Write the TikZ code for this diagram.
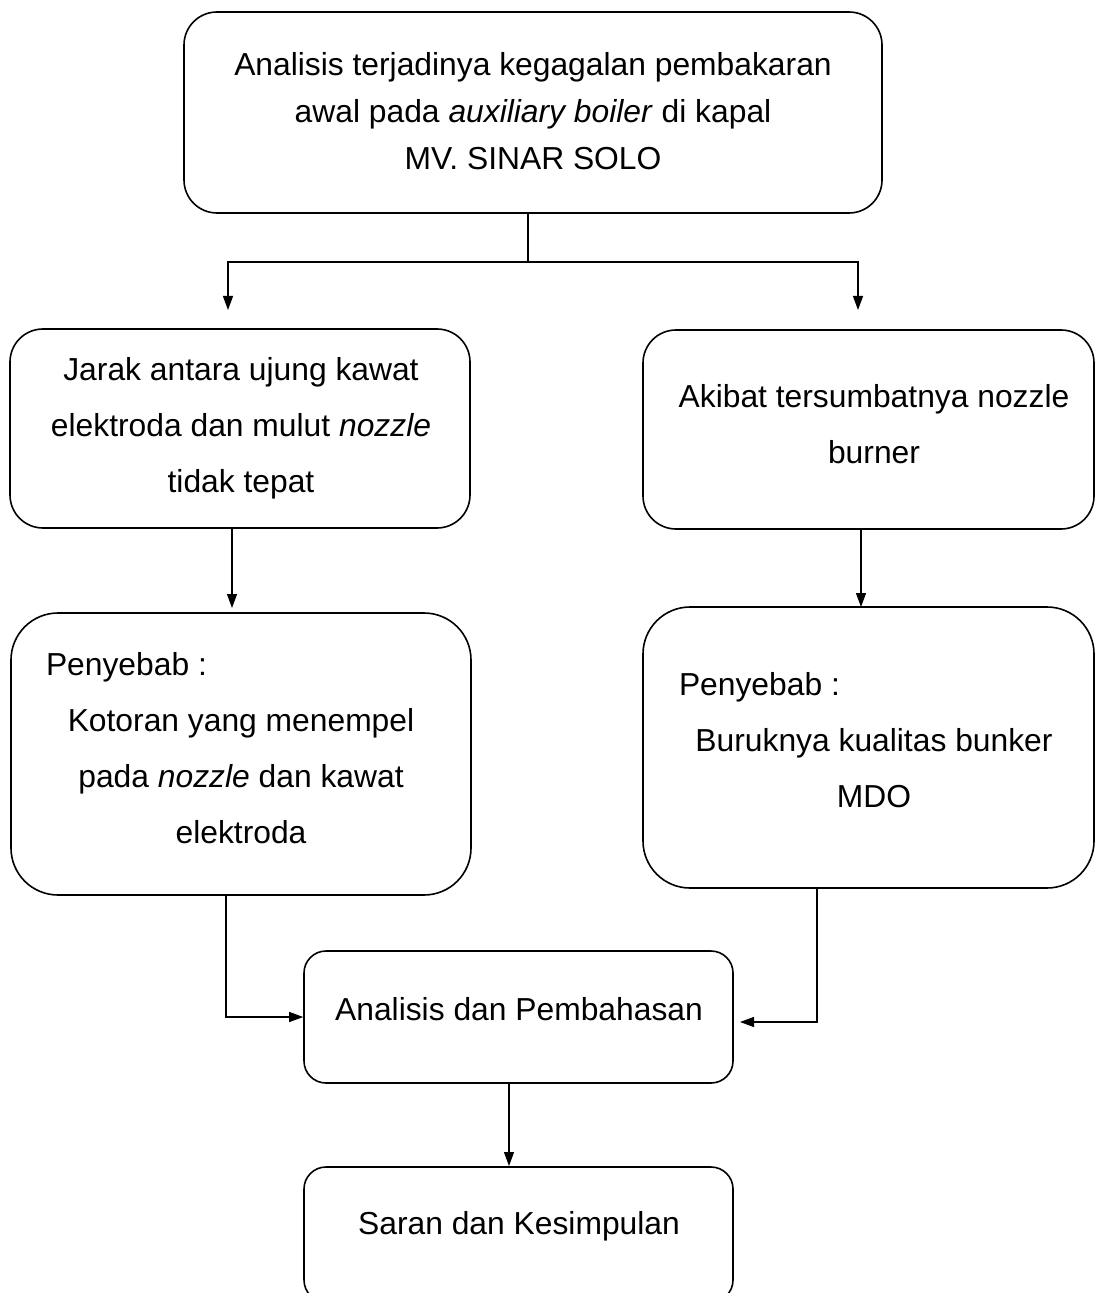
\documentclass[tikz,border=0pt]{standalone}
\usepackage{fontspec}
\setmainfont{Liberation Sans}
\usetikzlibrary{arrows.meta}

\begin{document}
\begin{tikzpicture}[x=0.5pt, y=-0.5pt, >={Triangle[length=7pt,width=5pt]},
  box/.style={draw, line width=0.8pt, inner sep=0pt},
  txt/.style={align=flush center, inner sep=0pt, font=\fontsize{15.9}{28}\selectfont},
  conn/.style={line width=0.6pt}]
  \useasboundingbox (0,0) rectangle (1096,1293);

  % Judul
  \node[box, rounded corners=16.5pt, minimum width=349pt, minimum height=100.5pt]
    (judul) at (533,112.5) {};
  \node[txt, font=\fontsize{15.9}{23.5}\selectfont] (judulteks) at (533,111)
    {Analisis terjadinya kegagalan pembakaran\\ awal pada \textit{auxiliary boiler} di kapal\\ MV. SINAR SOLO};

  % Cabang kiri dan kanan
  \node[box, rounded corners=16.5pt, minimum width=230pt, minimum height=99.5pt]
    (jarak) at (240,428.5) {};
  \node[txt] (jarakteks) at (241,428)
    {Jarak antara ujung kawat\\ elektroda dan mulut \textit{nozzle}\\ tidak tepat};
  \node[box, rounded corners=16.5pt, minimum width=225.5pt, minimum height=99.5pt]
    (sumbat) at (868.5,429.5) {};
  \node[txt] (sumbatteks) at (874,424)
    {Akibat tersumbatnya nozzle\\ burner};

  % Penyebab
  \node[box, rounded corners=23.5pt, minimum width=230pt, minimum height=141pt]
    (kotoran) at (241,754) {};
  \node[txt, text width=195pt] (kotoranteks) at (241,748)
    {Penyebab :\hfill\null\\ Kotoran yang menempel\\ pada \textit{nozzle} dan kawat\\ elektroda};
  \node[box, rounded corners=23.5pt, minimum width=225.5pt, minimum height=140.5pt]
    (mdo) at (868.5,747.5) {};
  \node[txt, text width=195pt] (mdoteks) at (874,740)
    {Penyebab :\hfill\null\\ Buruknya kualitas bunker\\ MDO};

  % Analisis dan saran
  \node[box, rounded corners=11pt, minimum width=214.5pt, minimum height=66pt]
    (bahas) at (518.5,1017) {};
  \node[txt] (bahasteks) at (519,1009) {Analisis dan Pembahasan};
  \node[box, rounded corners=11pt, minimum width=214.5pt, minimum height=67.5pt]
    (saran) at (518.5,1234.5) {};
  \node[txt] (saranteks) at (519,1226) {Saran dan Kesimpulan};

  % Penghubung
  \coordinate (cabang) at (528,262);
  \coordinate (ujungkiri) at (228,310);
  \coordinate (ujungkanan) at (858,310);
  \draw[conn] (judul.south -| cabang) -- (cabang);
  \draw[conn,->] (cabang) -| (ujungkiri);
  \draw[conn,->] (cabang) -| (ujungkanan);

  \coordinate (tiba1) at (232,608);
  \coordinate (tiba2) at (861,607);
  \draw[conn,->] (jarak.south -| tiba1) -- (tiba1);
  \draw[conn,->] (sumbat.south -| tiba2) -- (tiba2);

  \coordinate (turun1) at (226,1017);
  \coordinate (turun2) at (817,1022);
  \coordinate (masuk2) at (740,1022);
  \draw[conn,->] (kotoran.south -| turun1) |- (bahas.west);
  \draw[conn,->] (mdo.south -| turun2) |- (masuk2);

  \coordinate (tiba3) at (509,1166);
  \draw[conn,->] (bahas.south -| tiba3) -- (tiba3);
\end{tikzpicture}
\end{document}
